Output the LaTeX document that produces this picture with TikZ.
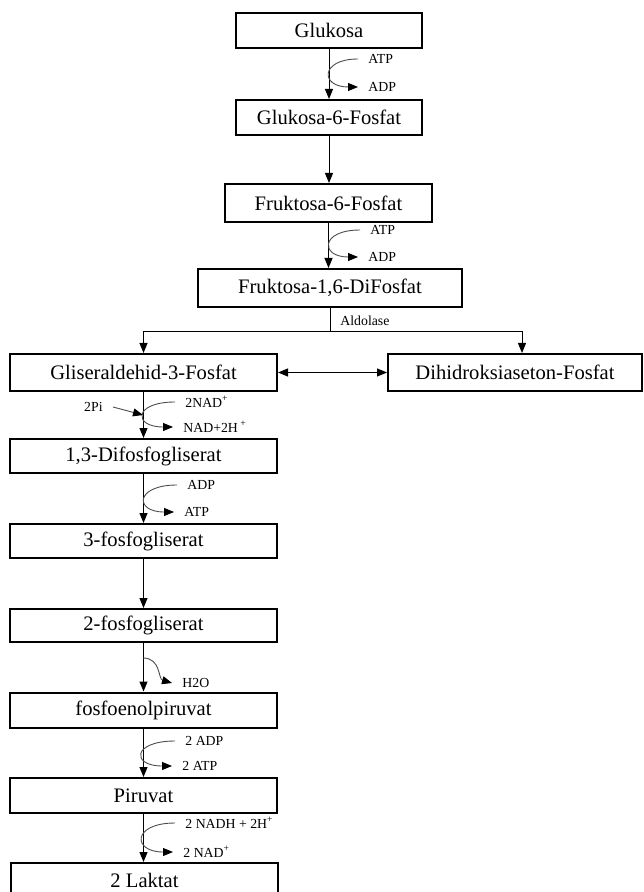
\documentclass[tikz,border=0pt]{standalone}
\usepackage{fontspec}
\setmainfont{Liberation Serif}
\usetikzlibrary{arrows.meta}
\tikzset{
    pathway-box/.style = {draw=black, line width=1pt, rectangle, minimum height=17.5pt, inner sep=2pt, font=\fontsize{10.3}{12}\selectfont},
    side-label/.style = {inner xsep=5pt, inner ysep=1pt, anchor=west, font=\fontsize{6.9}{8}\selectfont},
    main-arrow/.style = {line width=0.5pt, -{Triangle[length=5pt,width=4pt]}},
    side-arrow/.style = {line width=0.45pt, draw=black!70, -{Triangle[length=5pt,width=4pt,color=black]}},
}

\begin{document}
\begin{tikzpicture}[x=0.5pt, y=-0.5pt]
\useasboundingbox (0,0) rectangle (643,892);

% upper column
\node [pathway-box, minimum width=93pt] (glukosa) at (329,30.5) {Glukosa};
\node [pathway-box, minimum width=93pt] (g6p) at (329,117.5) {Glukosa-6-Fosfat};
\node [pathway-box, minimum width=103.5pt, minimum height=19pt] (f6p) at (328.5,203) {Fruktosa-6-Fosfat};
\node [pathway-box, minimum width=132pt, minimum height=19pt] (f16dp) at (330,288) {Fruktosa-1,6-DiFosfat};

% split
\node [pathway-box, minimum width=133.5pt, minimum height=18.5pt] (g3p) at (143.5,372.5) {Gliseraldehid-3-Fosfat};
\node [pathway-box, minimum width=127pt, minimum height=18.5pt] (dhap) at (515,372.5) {Dihidroksiaseton-Fosfat};

% lower column
\node [pathway-box, minimum width=133.5pt, minimum height=17pt] (dpg) at (143.5,456) {1,3-Difosfogliserat};
\node [pathway-box, minimum width=133.5pt, minimum height=17pt] (pg3) at (143.5,541) {3-fosfogliserat};
\node [pathway-box, minimum width=133.5pt, minimum height=16.5pt] (pg2) at (143.5,625.5) {2-fosfogliserat};
\node [pathway-box, minimum width=133.5pt] (pep) at (143.5,710) {fosfoenolpiruvat};
\node [pathway-box, minimum width=133.5pt] (piruvat) at (143.5,795.5) {Piruvat};
\node [pathway-box, minimum width=133.5pt] (laktat) at (144.5,880.5) {2 Laktat};

% main arrows
\draw [main-arrow] (glukosa.south) -- (glukosa.south |- g6p.north);
\draw [main-arrow] (g6p.south) -- (g6p.south |- f6p.north);
\draw [main-arrow] (f6p.south) -- (f6p.south |- f16dp.north);
\draw [main-arrow] (g3p.south) -- (g3p.south |- dpg.north);
\draw [main-arrow] (dpg.south) -- (dpg.south |- pg3.north);
\draw [main-arrow] (pg3.south) -- (pg3.south |- pg2.north);
\draw [main-arrow] (pg2.south) -- (pg2.south |- pep.north);
\draw [main-arrow] (pep.south) -- (pep.south |- piruvat.north);
\draw [main-arrow] (piruvat.south) -- (piruvat.south |- laktat.north);

% aldolase split
\draw [line width=0.5pt] (f16dp.south) -- ++(0,24) coordinate (split);
\node [side-label] (aldolase) at (330,321) {Aldolase};
\draw [main-arrow] (split) -| (g3p.north);
\draw [main-arrow] (split) -| ([xshift=3.5pt]dhap.north);
\draw [line width=0.5pt, {Triangle[length=5pt,width=4pt]}-{Triangle[length=5pt,width=4pt]}] (g3p.east) -- (dhap.west);

% side reactions
\node [side-label] (atp1) at (358,59) {ATP};
\node [side-label] (adp1) at (358,87) {ADP};
\draw [side-arrow] (atp1.west) .. controls +(-38,0) and +(-38,0) .. (adp1.west);

\node [side-label] (atp2) at (360,230) {ATP};
\node [side-label] (adp2) at (358,257) {ADP};
\draw [side-arrow] (atp2.west) .. controls +(-40,0) and +(-38,0) .. (adp2.west);

\node [side-label] (nad1) at (175,402) {2NAD\textsuperscript{+}};
\node [side-label] (nadh1) at (173,427) {NAD+2H\,\textsuperscript{+}};
\draw [side-arrow] (nad1.west) .. controls +(-42,0) and +(-40,0) .. (nadh1.west);
\node [side-label, anchor=east] (pi) at (113,407) {2Pi};
\coordinate (pi-in) at (143,415);
\draw [side-arrow] (pi.east) -- (pi-in);

\node [side-label] (adp3) at (177,485) {ADP};
\node [side-label] (atp3) at (174,512) {ATP};
\draw [side-arrow] (adp3.west) .. controls +(-42,0) and +(-40,0) .. (atp3.west);

\coordinate (h2o-out) at (143,658);
\node [side-label] (h2o) at (172,683) {H2O};
\draw [side-arrow] (h2o-out) .. controls +(18,0) and +(-14,-4) .. (h2o.west);

\node [side-label] (adp4) at (175,741) {2 ADP};
\node [side-label] (atp4) at (172,766) {2 ATP};
\draw [side-arrow] (adp4.west) .. controls +(-43,0) and +(-41,0) .. (atp4.west);

\node [side-label] (nadh2) at (175,823) {2 NADH + 2H\textsuperscript{+}};
\node [side-label] (nad2) at (173,852) {2 NAD\textsuperscript{+}};
\draw [side-arrow] (nadh2.west) .. controls +(-43,0) and +(-41,0) .. (nad2.west);
\end{tikzpicture}
\end{document}
